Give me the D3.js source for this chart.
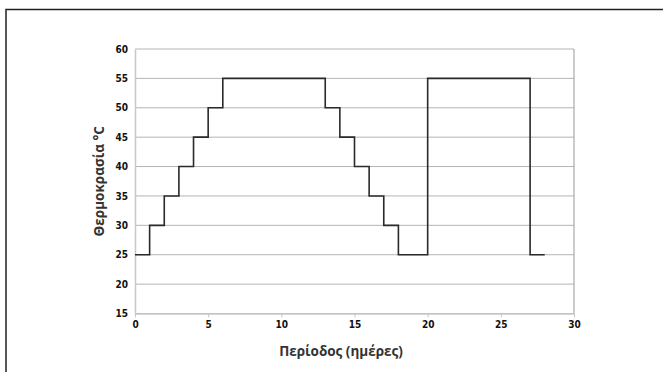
<!DOCTYPE html>
<html>
<head>
<meta charset="utf-8">
<script src="https://cdn.jsdelivr.net/npm/d3@7"></script>
<style>
  body { margin: 0; background: #fff; }
  .tick text { font-family: "Liberation Sans Narrow", "DejaVu Sans Condensed", sans-serif; font-weight: bold; font-size: 10px; fill: #111; }
  .title { font-family: "Open Sans", sans-serif; font-weight: bold; font-size: 13.5px; fill: #333; }
</style>
</head>
<body>
<div id="chart"></div>
<script>
// step breakpoints: day, temperature from that day on
const days = [0, 1, 2, 3, 4, 5, 6, 13, 14, 15, 16, 17, 18, 20, 27, 28];
const temps = [25, 30, 35, 40, 45, 50, 55, 50, 45, 40, 35, 30, 25, 55, 25, 25];
const xTicks = [0, 5, 10, 15, 20, 25, 30];
const yTicks = [15, 20, 25, 30, 35, 40, 45, 50, 55, 60];

const width = 663, height = 372;
const margin = { top: 49, right: 89, bottom: 58.5, left: 135 };
const innerW = width - margin.left - margin.right;
const innerH = height - margin.top - margin.bottom;

const svg = d3.select('#chart')
    .append('svg')
    .attr('width', width)
    .attr('height', height);

// outer frame, runs off the right and bottom edges
svg.append('rect')
    .attr('x', 6)
    .attr('y', 9.5)
    .attr('width', 700)
    .attr('height', 400)
    .attr('fill', 'none')
    .attr('stroke', '#222')
    .attr('stroke-width', 1.5);

const g = svg.append('g')
    .attr('transform', 'translate(' + margin.left + ',' + margin.top + ')');

const x = d3.scaleLinear().domain([0, 30]).range([0, innerW]);
const y = d3.scaleLinear().domain([15, 60]).range([innerH, 0]);

// horizontal grid
g.selectAll('line.grid')
    .data(yTicks)
    .enter()
    .append('line')
    .attr('class', 'grid')
    .attr('x1', 0)
    .attr('x2', innerW)
    .attr('y1', d => y(d))
    .attr('y2', d => y(d))
    .attr('stroke', '#b4b4b4')
    .attr('stroke-width', 1);

// right border of plot
g.append('line')
    .attr('x1', innerW).attr('x2', innerW)
    .attr('y1', 0).attr('y2', innerH)
    .attr('stroke', '#999');

// X axis
const xAxis = g.append('g')
    .attr('transform', 'translate(0,' + innerH + ')')
    .call(d3.axisBottom(x).tickValues(xTicks).tickSize(4).tickPadding(3).tickSizeOuter(0));
xAxis.select('.domain').attr('stroke', '#c8c8c8').attr('stroke-width', 1.5);
xAxis.selectAll('.tick line').attr('stroke', '#c8c8c8');

// Y axis
const yAxis = g.append('g')
    .call(d3.axisLeft(y).tickValues(yTicks).tickSize(0).tickPadding(7));
yAxis.select('.domain').attr('stroke', '#c8c8c8').attr('stroke-width', 1.5);

// step line
const pts = days.map((d, i) => [d, temps[i]]);
const line = d3.line()
    .x(d => x(d[0]))
    .y(d => y(d[1]))
    .curve(d3.curveStepAfter);

g.append('path')
    .datum(pts)
    .attr('fill', 'none')
    .attr('stroke', '#2a2a2a')
    .attr('stroke-width', 1.6)
    .attr('d', line);

// axis titles
svg.append('text')
    .attr('class', 'title')
    .attr('text-anchor', 'middle')
    .attr('x', 341)
    .attr('y', 356)
    .text('Περίοδος (ημέρες)');

svg.append('text')
    .attr('class', 'title')
    .attr('text-anchor', 'middle')
    .attr('transform', 'translate(104,' + (margin.top + innerH / 2) + ') rotate(-90)')
    .text('Θερμοκρασία °C');
</script>
</body>
</html>
